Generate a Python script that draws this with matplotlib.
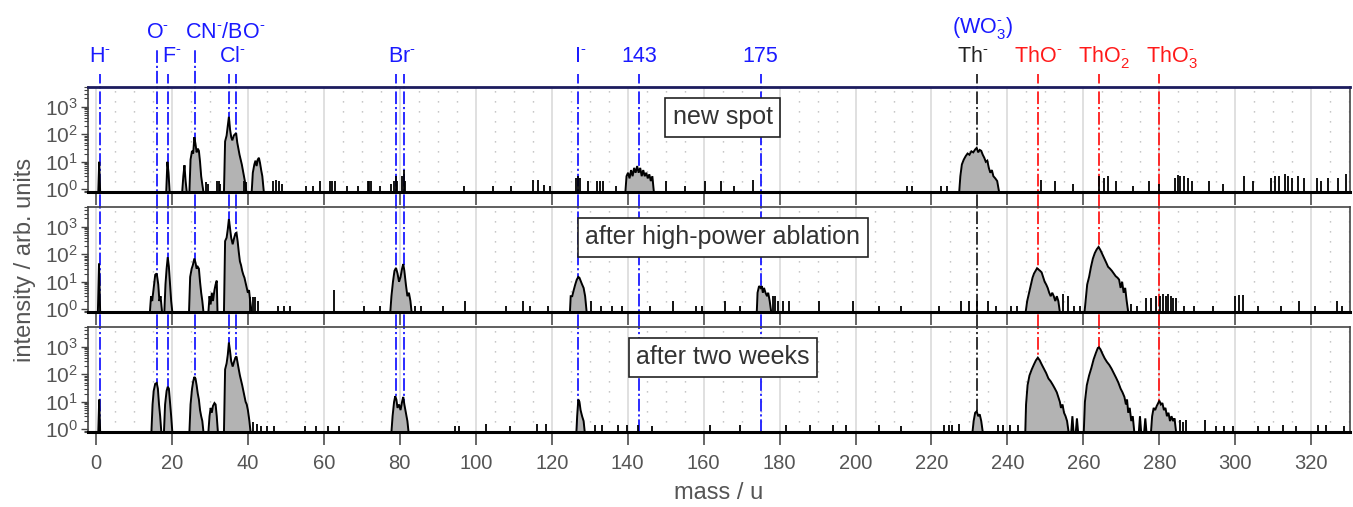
import matplotlib
matplotlib.use("Agg")
import matplotlib.pyplot as plt
import matplotlib.transforms as mtransforms
from matplotlib.ticker import MultipleLocator, LogLocator, NullFormatter, FixedLocator

plt.rcParams['font.family'] = ['Liberation Sans', 'DejaVu Sans']
plt.rcParams['mathtext.fontset'] = 'custom'
plt.rcParams['mathtext.rm'] = 'Liberation Sans'
plt.rcParams['mathtext.it'] = 'Liberation Sans:italic'
plt.rcParams['mathtext.bf'] = 'Liberation Sans:bold'

# ---------------- data ----------------
panel_titles = ["new spot", "after high-power ablation", "after two weeks"]

# spectrum outlines (mass / u, intensity)
spectrum_new = [
    (-2.1, 0.8), (0.6, 0.8), (0.85, 10), (1.1, 0.8),
    (18.5, 0.8), (18.8, 10), (19.1, 4), (19.4, 0.8),
    (22.7, 0.8), (23.0, 3), (23.3, 7.5), (23.6, 2), (23.9, 0.8),
    (24.6, 0.8), (24.9, 12), (25.3, 25), (25.6, 20), (25.9, 78), (26.2, 45), (26.5, 22), (26.8, 30),
    (27.1, 25), (27.4, 10), (27.7, 3), (28.0, 1.5), (28.3, 0.8),
    (33.7, 0.8), (34.0, 55), (34.4, 90), (34.7, 200), (35.0, 430), (35.3, 150), (35.6, 80), (35.9, 60),
    (36.3, 90), (36.6, 100), (36.9, 110), (37.2, 50), (37.5, 30), (37.8, 18), (38.1, 12), (38.4, 8),
    (38.8, 4), (39.2, 2), (39.6, 0.8),
    (41.0, 0.8), (41.3, 4), (41.7, 8), (42.0, 11), (42.3, 7), (42.6, 12), (42.9, 14), (43.2, 9),
    (43.5, 5), (43.8, 3), (44.2, 0.8),
    (139.4, 0.8), (139.7, 3), (140.1, 4), (140.5, 2.5), (140.9, 5), (141.3, 3), (141.7, 6), (142.1, 4),
    (142.5, 7), (142.9, 4), (143.3, 6), (143.7, 3), (144.1, 5), (144.5, 3), (144.9, 4), (145.3, 2.5),
    (145.7, 3.5), (146.1, 2), (146.5, 3), (146.9, 0.8),
    (227.3, 0.8), (227.6, 3), (228.0, 8), (228.5, 12), (229.0, 16), (229.5, 20), (230.0, 18), (230.5, 24),
    (231.0, 22), (231.5, 28), (231.9, 32), (232.3, 22), (232.7, 27), (233.1, 25), (233.5, 18), (233.9, 14),
    (234.3, 10), (234.7, 11), (235.1, 6), (235.5, 4), (235.9, 5), (236.3, 3), (236.8, 2.5), (237.3, 2),
    (237.8, 0.8),
    (330.2, 0.8),
]
spectrum_ablation = [
    (-2.1, 0.8), (0.5, 0.8), (0.8, 47), (1.1, 0.8),
    (14.2, 0.8), (14.5, 3), (14.8, 2), (15.2, 6), (15.6, 18), (16.0, 20), (16.4, 8), (16.7, 2), (17.0, 3), (17.4, 0.8),
    (18.0, 0.8), (18.3, 8), (18.6, 30), (18.9, 78), (19.2, 35), (19.5, 8), (19.8, 2), (20.1, 0.8),
    (24.5, 0.8), (24.8, 15), (25.2, 30), (25.5, 40), (25.9, 70), (26.2, 50), (26.5, 30), (26.8, 35),
    (27.1, 30), (27.4, 10), (27.7, 4), (28.0, 2), (28.3, 0.8),
    (29.6, 0.8), (29.9, 3), (30.2, 1.5), (30.5, 4), (30.8, 2), (31.2, 5), (31.5, 8), (31.8, 11), (32.0, 0.8),
    (33.7, 0.8), (34.0, 300), (34.4, 400), (34.7, 800), (35.0, 1900), (35.3, 900), (35.6, 400), (36.0, 230),
    (36.4, 400), (36.7, 560), (37.0, 600), (37.3, 300), (37.6, 120), (37.9, 55), (38.2, 40), (38.5, 25),
    (38.8, 18), (39.1, 14), (39.4, 9), (39.7, 6), (40.0, 4), (40.3, 5), (40.6, 2), (41.0, 0.8),
    (77.5, 0.8), (77.8, 3), (78.2, 10), (78.6, 25), (79.0, 32), (79.4, 20), (79.8, 10), (80.2, 15),
    (80.6, 30), (80.9, 44), (81.2, 25), (81.6, 8), (82.0, 3), (82.4, 4), (82.8, 2), (83.1, 0.8),
    (124.8, 0.8), (125.0, 3), (125.4, 3), (125.8, 5), (126.2, 8), (126.6, 12), (127.0, 15), (127.3, 14),
    (127.6, 11), (128.0, 8), (128.4, 6), (128.8, 3), (129.2, 0.8),
    (174.0, 0.8), (174.2, 4), (174.6, 7), (175.0, 6), (175.3, 7), (175.6, 4), (175.9, 6), (176.3, 4),
    (176.7, 3), (177.0, 4), (177.4, 2), (177.8, 0.8),
    (244.8, 0.8), (245.2, 2), (245.7, 4), (246.2, 8), (246.6, 14), (247.0, 20), (247.4, 25), (247.8, 31),
    (248.2, 28), (248.6, 25), (249.0, 22), (249.4, 15), (249.8, 10), (250.2, 8), (250.6, 6), (251.0, 4),
    (251.4, 3), (251.8, 4), (252.2, 3), (252.6, 2), (253.0, 3), (253.4, 2), (253.8, 0.8),
    (260.3, 0.8), (260.7, 3), (261.0, 8), (261.5, 15), (262.0, 35), (262.5, 70), (263.0, 110), (263.5, 150),
    (264.0, 185), (264.5, 140), (265.0, 100), (265.5, 70), (266.0, 50), (266.5, 35), (267.0, 30), (267.5, 25),
    (268.0, 20), (268.5, 16), (269.0, 14), (269.4, 12), (269.8, 6), (270.2, 10), (270.6, 4), (271.0, 6),
    (271.4, 2), (271.8, 0.8),
    (330.2, 0.8),
]
spectrum_weeks = [
    (-2.1, 0.8), (0.6, 0.8), (0.85, 12), (1.1, 0.8),
    (14.6, 0.8), (14.9, 8), (15.2, 25), (15.6, 45), (16.0, 48), (16.3, 30), (16.6, 8), (16.9, 3), (17.2, 0.8),
    (17.9, 0.8), (18.2, 8), (18.6, 25), (18.9, 35), (19.2, 30), (19.5, 10), (19.8, 3), (20.1, 0.8),
    (24.6, 0.8), (24.9, 8), (25.3, 30), (25.6, 55), (25.9, 80), (26.2, 70), (26.5, 40), (26.8, 20),
    (27.1, 12), (27.4, 5), (27.7, 3), (28.0, 2), (28.3, 0.8),
    (29.6, 0.8), (29.9, 3), (30.2, 6), (30.5, 4), (30.8, 7), (31.2, 9), (31.5, 8), (31.8, 3), (32.1, 0.8),
    (33.7, 0.8), (34.0, 150), (34.4, 250), (34.7, 500), (35.0, 1400), (35.3, 700), (35.6, 300), (36.0, 190),
    (36.4, 300), (36.7, 400), (37.0, 440), (37.3, 250), (37.6, 150), (37.9, 90), (38.2, 60), (38.5, 40),
    (38.8, 25), (39.1, 15), (39.4, 10), (39.7, 8), (40.0, 5), (40.4, 2), (40.7, 0.8),
    (77.8, 0.8), (78.1, 3), (78.5, 10), (78.8, 16), (79.1, 12), (79.4, 6), (79.8, 8), (80.2, 5),
    (80.6, 10), (80.9, 15), (81.2, 8), (81.6, 4), (82.0, 2), (82.3, 0.8),
    (126.5, 0.8), (126.7, 3), (127.0, 12), (127.3, 10), (127.6, 5), (128.0, 3), (128.4, 2), (128.7, 0.8),
    (230.8, 0.8), (231.1, 2), (231.5, 4), (231.9, 4.5), (232.3, 3), (232.7, 3.5), (233.1, 2), (233.5, 0.8),
    (244.7, 0.8), (244.9, 8), (245.3, 40), (245.8, 90), (246.4, 150), (247.0, 230), (247.5, 320), (248.0, 400),
    (248.5, 320), (249.0, 230), (249.6, 160), (250.2, 110), (250.8, 70), (251.4, 55), (252.0, 40), (252.5, 30),
    (253.0, 22), (253.4, 15), (253.8, 10), (254.1, 6), (254.5, 8), (254.9, 4), (255.3, 3), (255.7, 2),
    (256.1, 0.8), (256.8, 0.8), (257.1, 3), (257.4, 0.8), (258.0, 0.8), (258.3, 2.5), (258.6, 0.8),
    (260.1, 0.8), (260.4, 10), (260.9, 40), (261.5, 90), (262.1, 170), (262.7, 350), (263.3, 600), (263.8, 900),
    (264.1, 950), (264.5, 800), (265.0, 560), (265.6, 380), (266.2, 280), (266.8, 220), (267.4, 160), (268.0, 110),
    (268.6, 75), (269.2, 50), (269.8, 30), (270.3, 22), (270.8, 15), (271.2, 8), (271.5, 12), (271.8, 4),
    (272.2, 6), (272.6, 2), (273.0, 3), (273.4, 0.8),
    (274.6, 0.8), (274.9, 3), (275.2, 0.8), (276.0, 0.8), (276.3, 2.5), (276.6, 0.8),
    (277.8, 0.8), (278.1, 3), (278.5, 6), (278.9, 5), (279.3, 7), (279.7, 9), (280.0, 11), (280.4, 8),
    (280.8, 9), (281.2, 5), (281.6, 6), (282.0, 3), (282.4, 4), (282.8, 2), (283.2, 3), (283.6, 2),
    (284.0, 2.5), (284.4, 0.8),
    (330.2, 0.8),
]

# isolated single-channel spikes (mass / u, intensity)
spikes_new = [
    (29.1, 1.8), (29.6, 1.5), (31.8, 2), (32.3, 2), (32.6, 1.6), (38.9, 2), (39.4, 1.8), (46.6, 2),
    (47.4, 2.1), (48.1, 2), (49.1, 1.6), (55.2, 1.3), (57.2, 1.3), (59.1, 2), (61.6, 2), (62.2, 2),
    (62.9, 2), (66.2, 1.3), (69.0, 1.3), (71.5, 2), (72.0, 2), (72.5, 2), (74.7, 1.3), (77.6, 1.5),
    (78.4, 2), (78.9, 3), (79.3, 2), (80.7, 3), (81.0, 5), (81.4, 2),
    (97.0, 1.3), (104.5, 1.3), (109.2, 1.3), (115.1, 2.1), (116.4, 2.1), (118.0, 1.4), (119.6, 1.3),
    (126.4, 2.5), (126.9, 3), (127.5, 2.5), (129.6, 2), (131.8, 2), (132.6, 2), (133.6, 2), (137.0, 1.3),
    (150.2, 2), (155.1, 1.3), (160.3, 2), (164.5, 2), (168.0, 1.3), (172.9, 2.2), (213.5, 1.3), (215.0, 1.3),
    (222.6, 1.3), (224.0, 1.3), (248.9, 2.1), (252.4, 2), (257.2, 1.5), (264.2, 3), (265.4, 2.5),
    (266.5, 3), (268.5, 2), (273.0, 1.3), (277.4, 2), (280.0, 1.5), (284.2, 2.5), (285.0, 3.2),
    (285.5, 3), (286.5, 3), (287.5, 2.5), (288.6, 2), (293.2, 2), (296.7, 1.5), (302.4, 3), (304.6, 2),
    (309.5, 2.5), (310.5, 3), (311.5, 3), (313.0, 3.5), (314.0, 3), (315.0, 2.5), (316.5, 3), (318.0, 2.5),
    (321.5, 2.5), (322.5, 2), (324.5, 2.5), (327.0, 2.5), (329.2, 3.5),
]
spikes_ablation = [
    (40.5, 2.7), (41.3, 2.7), (42.0, 2.7), (42.6, 2), (48.0, 1.3), (49.5, 1.3), (51.0, 1.3), (62.7, 5),
    (70.5, 1.3), (74.7, 1.3), (84.0, 1.3), (85.5, 1.3), (91.4, 1.3), (97.3, 2), (108.0, 1.3), (112.5, 2),
    (114.2, 1.3), (119.0, 1.3), (130.4, 2), (133.0, 1.3), (136.0, 1.3), (138.5, 1.3), (145.8, 1.3),
    (152.0, 2), (158.0, 1.3), (159.5, 1.3), (165.5, 2), (169.5, 1.3), (178.3, 3), (178.9, 3), (179.6, 2),
    (181.0, 2), (182.6, 2), (190.5, 2), (199.3, 2), (206.3, 1.3), (212.0, 1.3), (222.0, 1.3), (227.8, 2),
    (229.8, 2), (231.9, 2), (234.8, 2), (237.0, 1.3), (241.0, 1.3), (242.5, 1.3), (254.6, 3.6), (255.9, 3),
    (257.5, 1.3), (259.0, 1.3), (272.5, 1.5), (274.0, 1.3), (276.5, 2.5), (277.8, 2.5), (279.0, 3),
    (280.3, 3), (281.0, 3.5), (281.7, 3), (282.4, 3.5), (283.0, 3), (283.6, 2.5), (284.4, 2.5),
    (286.5, 1.3), (289.0, 1.3), (294.0, 1.3), (299.8, 3), (300.9, 3.3), (301.9, 3.3), (306.0, 1.3),
    (312.0, 1.3), (316.8, 2), (321.0, 1.3), (326.8, 2), (328.0, 1.3),
]
spikes_weeks = [
    (41.4, 1.85), (42.3, 1.5), (43.5, 1.3), (45.0, 1.3), (47.0, 1.3), (55.0, 1.3), (58.0, 1.3), (61.0, 1.3),
    (64.0, 1.3), (94.5, 1.3), (95.5, 1.3), (102.6, 1.5), (109.0, 1.3), (116.2, 1.5), (118.4, 1.6),
    (131.5, 1.4), (133.3, 1.4), (137.5, 1.4), (139.7, 1.4), (142.8, 1.4), (146.5, 1.3), (161.6, 1.4),
    (169.6, 1.4), (181.7, 1.4), (187.9, 1.4), (194.0, 1.4), (197.5, 1.4), (206.3, 1.4), (212.0, 1.3),
    (223.3, 1.4), (224.5, 1.4), (225.5, 1.4), (227.3, 1.5), (237.5, 1.4), (238.8, 1.4), (240.6, 1.4),
    (242.8, 1.4), (285.4, 2.1), (286.3, 1.8), (287.1, 2.1), (292.0, 2.1), (295.0, 1.3), (297.0, 1.3),
    (299.5, 1.3), (305.9, 1.3), (309.0, 1.3), (312.5, 1.4), (316.0, 1.3), (321.7, 1.4), (323.9, 1.4),
    (328.5, 1.3),
]

spectra = [spectrum_new, spectrum_ablation, spectrum_weeks]
spikes = [spikes_new, spikes_ablation, spikes_weeks]

# marker lines: mass, colour, label row of the line top (1 = lower, 2 = upper)
marker_mass = [1, 16, 19, 26, 35, 37, 79, 81, 127, 143, 175, 232, 248, 264, 280]
marker_color = ['#1a1aff'] * 11 + ['#222222'] + ['#ff1a1a'] * 3
marker_row = [1, 2, 1, 2, 1, 1, 1, 1, 1, 1, 1, 1, 1, 1, 1]

# labels: text, x position (mass), row, colour
SUP = r'^{\text{-}}'
label_text = ['H$' + SUP + '$', 'O$' + SUP + '$', 'F$' + SUP + '$', 'CN$' + SUP + '$/BO$' + SUP + '$',
              'Cl$' + SUP + '$', 'Br$' + SUP + '$', 'I$' + SUP + '$', '143', '175',
              '(WO$_3' + SUP + '$)', 'Th$' + SUP + '$', 'ThO$' + SUP + '$', 'ThO$_2' + SUP + '$',
              'ThO$_3' + SUP + '$']
label_x = [1.0, 16.3, 20.0, 34.0, 36.0, 80.5, 127.4, 143.0, 175.0, 233.4, 230.8, 248.0, 265.5, 283.4]
label_row = [1, 2, 1, 2, 1, 1, 1, 1, 1, 3, 1, 1, 1, 1]
label_color = ['#1a1aff'] * 10 + ['#222222'] + ['#ff1a1a'] * 3

x_ticks = list(range(0, 321, 20))

# ---------------- layout ----------------
W_PX, H_PX = 1353, 507
fig = plt.figure(figsize=(W_PX / 100, H_PX / 100), dpi=100)
left = 88 / W_PX
width = (1350 - 88) / W_PX
height = 105 / H_PX
tops_px = [87, 207, 327]
GRAY = '#555555'
BASE = 0.8

axes = []
for i, top in enumerate(tops_px):
    ax = fig.add_axes([left, 1 - (top + 105) / H_PX, width, height])
    axes.append(ax)

for i, ax in enumerate(axes):
    ax.set_xlim(-2.1, 330.2)
    ax.set_yscale('log')
    ax.set_ylim(BASE, 5200)
    ax.set_axisbelow(True)

    # grid
    ax.xaxis.set_major_locator(FixedLocator(x_ticks))
    ax.xaxis.set_minor_locator(MultipleLocator(5))
    ax.grid(axis='x', which='major', color='#dddddd', lw=1.3, ls='-')
    ax.grid(axis='x', which='minor', color='#b5b5b5', lw=1.0, ls=(0, (0.9, 6.3)))
    ax.grid(axis='y', which='both', visible=False)

    ax.tick_params(axis='x', which='major', direction='out', length=9.5, width=1.4, color='#666666',
                   labelsize=14.5, labelcolor=GRAY, pad=6, labelbottom=(i == 2))
    ax.tick_params(axis='x', which='minor', length=0)
    ax.yaxis.set_major_locator(FixedLocator([1, 10, 100, 1000]))
    ax.yaxis.set_minor_locator(LogLocator(base=10, subs=range(2, 10), numticks=20))
    ax.yaxis.set_minor_formatter(NullFormatter())
    ax.tick_params(axis='y', which='major', direction='out', length=5, width=1.0, color='#444444',
                   labelsize=15, labelcolor=GRAY, pad=2)
    ax.tick_params(axis='y', which='minor', direction='out', length=3, width=0.8, color='#444444')

    for side in ['left', 'right', 'top']:
        ax.spines[side].set_color('#444444')
        ax.spines[side].set_linewidth(1.2)
    ax.spines['bottom'].set_color('black')
    ax.spines['bottom'].set_linewidth(2.2)
    if i == 0:
        ax.spines['top'].set_color('#1c1c5e')
        ax.spines['top'].set_linewidth(2.0)

    # spectrum
    m = [p[0] for p in spectra[i]]
    y = [p[1] for p in spectra[i]]
    ax.fill_between(m, BASE, y, color='#b3b3b3', lw=0, zorder=2)
    ax.plot(m, y, color='black', lw=1.4, zorder=3, solid_joinstyle='miter')
    sm = [p[0] for p in spikes[i]]
    sh = [p[1] for p in spikes[i]]
    ax.vlines(sm, BASE, sh, color='black', lw=1.3, zorder=3)

    # marker lines
    trans = mtransforms.blended_transform_factory(ax.transData, ax.transAxes)
    gap = 15 / 105
    for mm, cc, rr in zip(marker_mass, marker_color, marker_row):
        y0 = 0 if i == 2 else -gap
        if i == 0:
            y1 = 1 + ((87 - 74) / 105 if rr == 1 else (87 - 49) / 105)
        else:
            y1 = 1
        ax.plot([mm, mm], [y0, y1], transform=trans, color=cc, lw=1.3, ls='-.',
                dashes=(7, 1.6, 1.2, 1.6), clip_on=False, zorder=1.5)

    ax.text(0.503, 0.714, panel_titles[i], transform=ax.transAxes, ha='center', va='center',
            fontsize=18, color='#333333', zorder=6,
            bbox=dict(boxstyle='square,pad=0.3', fc='white', ec='#222222', lw=1.2))

# top labels
ax0 = axes[0]
tr_top = mtransforms.blended_transform_factory(ax0.transData, fig.transFigure)
row_base = {1: 1 - 62 / H_PX, 2: 1 - 38 / H_PX, 3: 1 - 33 / H_PX}
for t, x, r, c in zip(label_text, label_x, label_row, label_color):
    fig.text(x, row_base[r], t, transform=tr_top, ha='center', va='baseline', fontsize=15.5, color=c)

fig.text(25 / W_PX, 1 - 260 / H_PX, 'intensity / arb. units', rotation=90, ha='center', va='center',
         fontsize=17, color=GRAY)
fig.text(719 / W_PX, 1 - 493 / H_PX, 'mass / u', ha='center', va='center', fontsize=17, color=GRAY)

fig.savefig('out.png', dpi=100, facecolor='white')
